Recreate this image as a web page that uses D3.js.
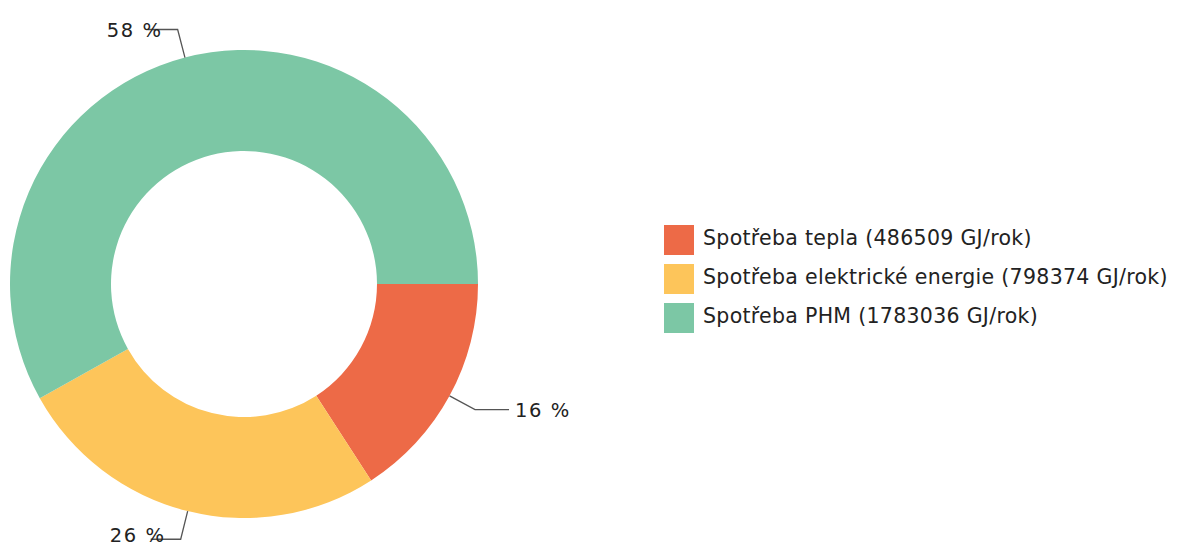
<!DOCTYPE html>
<html>
<head>
<meta charset="utf-8">
<script src="https://cdn.jsdelivr.net/npm/d3@7"></script>
<style>
  body { margin: 0; background: #fff; }
  text { font-family: "DejaVu Sans", Verdana, sans-serif; fill: #222; }
</style>
</head>
<body>
<script>
  // data
  var categories = ["Spotřeba tepla", "Spotřeba elektrické energie", "Spotřeba PHM"];
  var values = [486509, 798374, 1783036];
  var unit = "GJ/rok";
  var colors = ["#ED6A47", "#FDC55A", "#7CC7A5"];

  var W = 1195, H = 548;
  var cx = 244, cy = 284, rOut = 234, rIn = 133;

  var svg = d3.select("body").append("svg")
      .attr("width", W)
      .attr("height", H);

  var total = d3.sum(values);
  var pie = d3.pie().sort(null)
      .startAngle(Math.PI / 2)
      .endAngle(Math.PI / 2 + 2 * Math.PI);
  var arcs = pie(values);

  var arc = d3.arc().innerRadius(rIn).outerRadius(rOut);

  var g = svg.append("g").attr("transform", "translate(" + cx + "," + cy + ")");

  g.selectAll("path.slice")
    .data(arcs)
    .enter().append("path")
    .attr("class", "slice")
    .attr("d", arc)
    .attr("fill", function (d, i) { return colors[i]; });

  // labels with leader lines
  arcs.forEach(function (d, i) {
    var a = (d.startAngle + d.endAngle) / 2;
    var p0 = [rOut * Math.sin(a), -rOut * Math.cos(a)];
    var rr = rOut + 29;
    var p1 = [rr * Math.sin(a), -rr * Math.cos(a)];
    var right = Math.sin(a) > 0;
    var p2 = [p1[0] + (right ? 34 : -30), p1[1]];
    g.append("polyline")
      .attr("points", [p0, p1, p2].map(function (p) { return p.join(","); }).join(" "))
      .attr("fill", "none")
      .attr("stroke", "#555")
      .attr("stroke-width", 1.3);
    // keep the text (with its descent) inside the picture
    var ty = Math.min(p2[1] + 7, H - cy - 6);
    g.append("text")
      .attr("x", p2[0] + (right ? 6 : 15))
      .attr("y", ty)
      .attr("text-anchor", right ? "start" : "end")
      .attr("font-size", 19.5)
      .attr("letter-spacing", 1.6)
      .text(Math.round(values[i] / total * 100) + " %");
  });

  // legend
  var legend = svg.append("g").attr("transform", "translate(664,225)");
  var item = legend.selectAll("g")
    .data(categories)
    .enter().append("g")
    .attr("transform", function (d, i) { return "translate(0," + (i * 39) + ")"; });
  item.append("rect")
    .attr("width", 30)
    .attr("height", 30)
    .attr("fill", function (d, i) { return colors[i]; });
  item.append("text")
    .attr("x", 39)
    .attr("y", 20)
    .attr("font-size", 20.5)
    .attr("letter-spacing", 0.3)
    .text(function (d, i) { return d + " (" + values[i] + " " + unit + ")"; });
</script>
</body>
</html>
